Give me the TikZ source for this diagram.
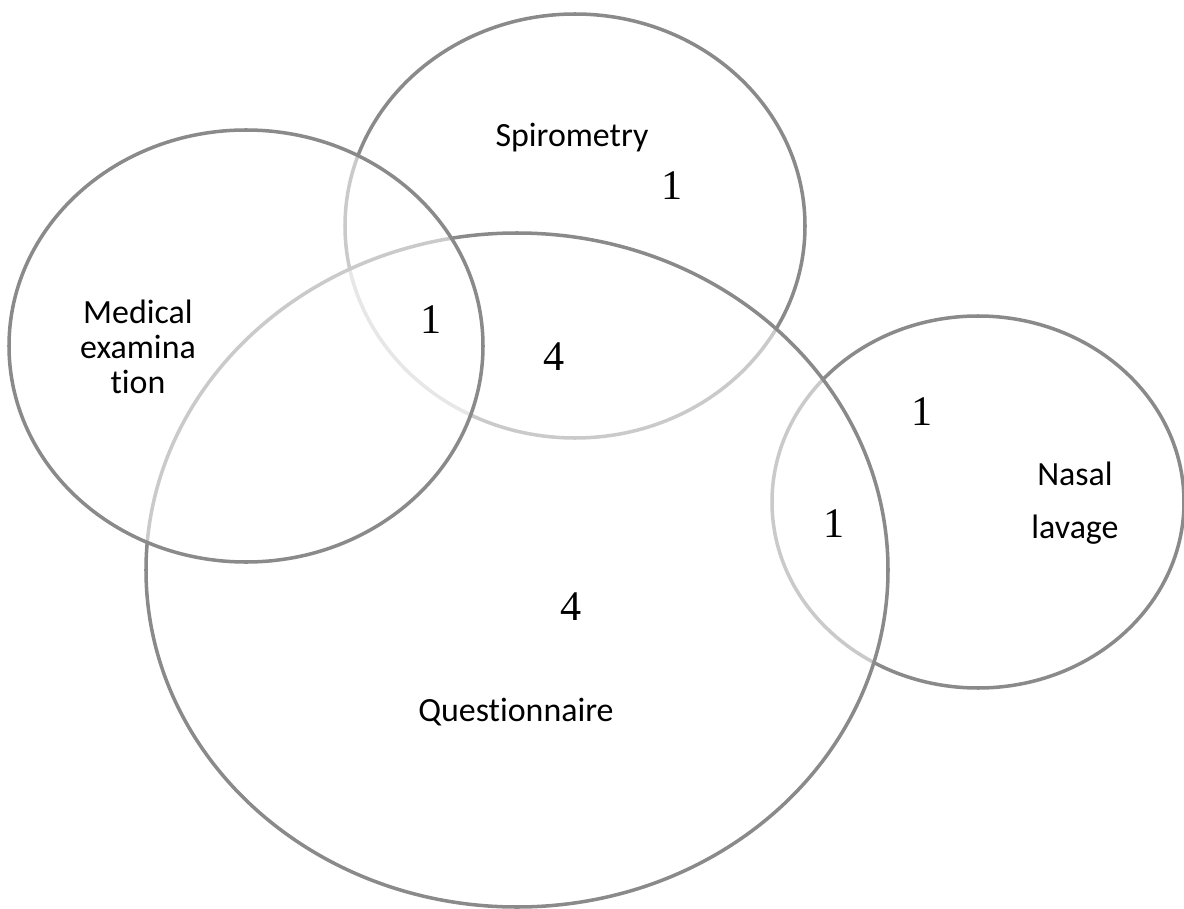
\documentclass[tikz,border=0pt]{standalone}
\usepackage{fontspec}
\setmainfont{Carlito}[Ligatures=NoCommon]
\newfontfamily\numfont{Liberation Serif}
\definecolor{setgray}{RGB}{138,138,138}
\tikzset{venn/.style={draw=setgray, line width=2pt, fill=white, fill opacity=0.55},
         setname/.style={font=\fontsize{19.3}{20}\selectfont, align=center, inner sep=0pt},
         count/.style={font=\numfont\fontsize{24}{26}\selectfont, inner sep=0pt}}

\begin{document}
\begin{tikzpicture}[x=0.02cm, y=-0.02cm]
  \useasboundingbox (0,0) rectangle (1184,909);
  \draw[venn] (575,226) ellipse [x radius=230, y radius=212];
  \draw[venn] (978,502) ellipse [x radius=206, y radius=186];
  \draw[venn] (517,570) ellipse [x radius=371, y radius=337];
  \draw[venn] (246,346) ellipse [x radius=237, y radius=216];
  \node[setname] (spiro) at (572,138) {Spirometry};
  \node[setname] (medical) at (138,347) {Medical\\examina\\tion};
  \node[setname, font=\fontsize{19.3}{30}\selectfont] (nasal) at (1075,503) {Nasal\\lavage};
  \node[setname] (quest) at (516,712) {Questionnaire};
  \foreach \pos/\name/\val in {(672,186)/s/1, (431,320)/ms/1, (554,357)/msq/4,
                               (922,412)/n/1, (834,524)/nq/1, (571,607)/q/4}
    \node[count] (c\name) at \pos {\val};
\end{tikzpicture}
\end{document}
